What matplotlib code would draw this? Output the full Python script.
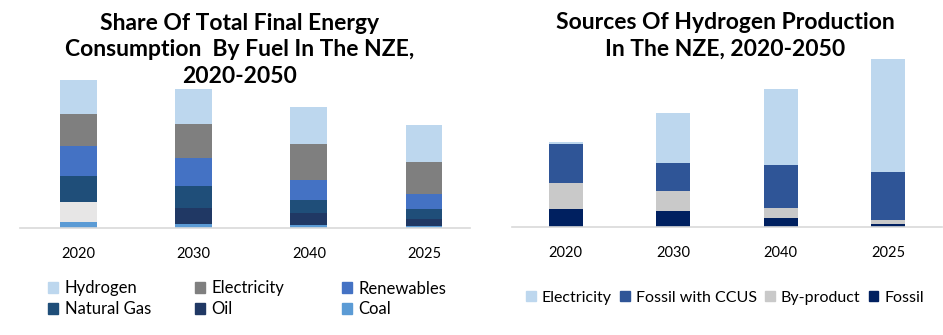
import numpy as np
import matplotlib.pyplot as plt
from matplotlib.patches import Patch

plt.rcParams['font.family'] = ['Lato', 'DejaVu Sans']

years = ["2020", "2030", "2040", "2025"]

# left chart: final energy consumption shares, stacked bottom -> top
fuel_names = ["Coal", "Oil", "Natural Gas", "Renewables", "Electricity", "Hydrogen"]
coal = [6, 4, 3, 2]
oil = [20, 16, 12, 7]
natural_gas = [26, 22, 13, 10]
renewables = [30, 28, 20, 15]
electricity = [32, 34, 36, 32]
hydrogen = [34, 35, 37, 37]

# right chart: hydrogen production sources, stacked bottom -> top
source_names = ["Fossil", "By-product", "Fossil with CCUS", "Electricity"]
fossil = [18, 16, 9, 3]
by_product = [26, 20, 10, 4]
fossil_ccus = [39, 28, 43, 48]
h2_electricity = [2, 50, 76, 113]

fuel_colors = {"Coal": "#5b9bd5", "Oil": "#203864", "Natural Gas": "#1f4e79",
               "Renewables": "#4472c4", "Electricity": "#7f7f7f", "Hydrogen": "#bdd7ee"}
source_colors = {"Fossil": "#002060", "By-product": "#c9c9c9",
                 "Fossil with CCUS": "#2f5597", "Electricity": "#bdd7ee"}

W, H = 943, 335
fig = plt.figure(figsize=(W / 100, H / 100), dpi=100)

def px_axes(x0, x1, ytop, ybot):
    return fig.add_axes([x0 / W, (H - ybot) / H, (x1 - x0) / W, (ybot - ytop) / H])

ax1 = px_axes(20, 470, 58, 228)
ax2 = px_axes(512, 942, 57, 227)

x = np.arange(len(years))

bottom = np.zeros(len(years))
for name, vals in zip(fuel_names, [coal, oil, natural_gas, renewables, electricity, hydrogen]):
    cols = [fuel_colors[name]] * len(years)
    if name == "Oil":
        cols[0] = "#e7e6e6"
    ax1.bar(x, vals, 0.32, bottom=bottom, color=cols, linewidth=0)
    bottom += np.array(vals)

bottom = np.zeros(len(years))
for name, vals in zip(source_names, [fossil, by_product, fossil_ccus, h2_electricity]):
    ax2.bar(x, vals, 0.32, bottom=bottom, color=source_colors[name], linewidth=0)
    bottom += np.array(vals)

ax1.set_xlim(-0.51, 3.40)
ax2.set_xlim(-0.5, 3.5)
for ax in (ax1, ax2):
    ax.set_ylim(0, 170)
    ax.set_xticks(x)
    ax.set_xticklabels(years, fontsize=10.5)
    ax.set_yticks([])
    for s in ("top", "right", "left"):
        ax.spines[s].set_visible(False)
    ax.spines["bottom"].set_color("#d9d9d9")
    ax.spines["bottom"].set_linewidth(1.2)
    ax.tick_params(axis="x", length=0, pad=14)

fig.text(240 / W, 1 - 50 / H, "Share Of Total Final Energy\nConsumption  By Fuel In The NZE,\n2020-2050",
         ha="center", va="center", fontsize=16.5, fontweight="bold", linespacing=1.3)
fig.text(725 / W, 1 - 36 / H, "Sources Of Hydrogen Production\nIn The NZE, 2020-2050",
         ha="center", va="center", fontsize=16.5, fontweight="bold", linespacing=1.3)

# left legend: three columns, two rows each
left_cols = [["Hydrogen", "Natural Gas"], ["Electricity", "Oil"], ["Renewables", "Coal"]]
for xpos, names in zip([48, 195, 342], left_cols):
    hs = [Patch(color=fuel_colors[n]) for n in names]
    leg = fig.legend(hs, names, loc="center left", bbox_to_anchor=(xpos / W, 1 - 299 / H),
                     frameon=False, fontsize=12, handlelength=0.6, handleheight=0.6,
                     handletextpad=0.4, labelspacing=0.3, borderpad=0, borderaxespad=0)

right_order = ["Electricity", "Fossil with CCUS", "By-product", "Fossil"]
h2 = [Patch(color=source_colors[n]) for n in right_order]
fig.legend(h2, right_order, ncol=4, loc="center left", bbox_to_anchor=(526 / W, 1 - 298 / H),
           frameon=False, fontsize=11.5, handlelength=0.6, handleheight=0.6,
           handletextpad=0.4, columnspacing=0.5, borderpad=0, borderaxespad=0)

fig.savefig("out.png", dpi=100)
